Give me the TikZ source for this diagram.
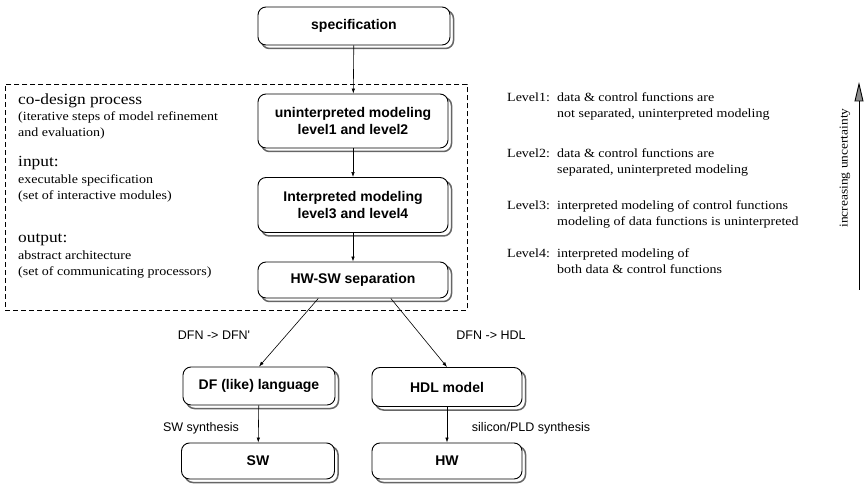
\documentclass[tikz,border=0pt]{standalone}
\usepackage{fontspec}
\setmainfont[FakeStretch=1.12]{Liberation Serif}
\newfontfamily\boxfont{Liberation Sans}
\usetikzlibrary{shadows,arrows.meta}
\begin{document}
\begin{tikzpicture}[x=1pt,y=-1pt,
  box/.style={draw, rounded corners=8pt, fill=white, line width=0.9pt,
    font=\boxfont\bfseries\fontsize{14}{16.5}\selectfont, align=center,
    copy shadow={shadow xshift=3.5pt, shadow yshift=-3.5pt, draw=black!60, fill=white, line width=1.5pt}},
  arr/.style={-{Latex[length=5pt,width=3.5pt]}, line width=0.6pt},
  sanslbl/.style={font=\boxfont\fontsize{12.5}{14}\selectfont, inner sep=0pt},
  bigtxt/.style={font=\fontsize{15.5}{17}\selectfont, anchor=base west, inner sep=0pt},
  smalltxt/.style={font=\fontsize{12.5}{14}\selectfont, anchor=base west, inner sep=0pt},
  lvltxt/.style={font=\fontsize{12.5}{14}\selectfont, anchor=base west, inner sep=0pt}]
\useasboundingbox (0,0) rectangle (868,489);

% dashed group
\node (group) [draw, dashed, dash pattern=on 5pt off 3pt, line width=0.7pt, minimum width=462pt, minimum height=226pt, anchor=north west, inner sep=0pt] at (5,84) {};

% boxes
\node (spec) [box, minimum width=192pt, minimum height=38pt] at (354,26) {specification};
\node (unint) [box, minimum width=190pt, minimum height=54pt] at (353,121) {uninterpreted modeling\\level1 and level2};
\node (int) [box, minimum width=190pt, minimum height=55pt] at (353,205) {Interpreted modeling\\level3 and level4};
\node (hwsw) [box, minimum width=190pt, minimum height=36pt] at (353,280) {HW-SW separation};
\node (df) [box, minimum width=152pt, minimum height=38pt] at (259,386) {DF (like) language};
\node (hdl) [box, minimum width=150pt, minimum height=39pt] at (447,387) {HDL model};
\node (sw) [box, minimum width=153pt, minimum height=36pt] at (258,461) {SW};
\node (hw) [box, minimum width=150pt, minimum height=36pt] at (447,461) {HW};

% connectors
\draw[arr] (spec) -- (unint);
\draw[arr] (unint) -- (int);
\draw[arr] (int) -- (hwsw);
\draw[arr] (hwsw.208) -- (df.north);
\draw[arr] (hwsw.334) -- (hdl.north);
\draw[arr] (df) -- (sw);
\draw[arr] (hdl) -- (hw);

% connector labels
\node (l1) [sanslbl] at (214,335) {DFN -> DFN'};
\node (l2) [sanslbl] at (491,335) {DFN -> HDL};
\node (l3) [sanslbl] at (201,428) {SW synthesis};
\node (l4) [sanslbl] at (531,428) {silicon/PLD synthesis};

% left texts
\node (t1) [bigtxt] at (18,105) {co-design process};
\node (t2) [smalltxt] at (18,121) {(iterative steps of model refinement};
\node (t3) [smalltxt] at (18,137) {and evaluation)};
\node (t4) [bigtxt] at (18,167) {input:};
\node (t5) [smalltxt] at (18,184) {executable specification};
\node (t6) [smalltxt] at (18,200) {(set of interactive modules)};
\node (t7) [bigtxt] at (18,243) {output:};
\node (t8) [smalltxt] at (18,260) {abstract architecture};
\node (t9) [smalltxt] at (18,276) {(set of communicating processors)};

% right texts
\node (v1) [lvltxt] at (507,102) {Level1:};
\node (v1a) [lvltxt] at (557,102) {data \& control functions are};
\node (v1b) [lvltxt] at (557,118) {not separated, uninterpreted modeling};
\node (v2) [lvltxt] at (507,158) {Level2:};
\node (v2a) [lvltxt] at (557,158) {data \& control functions are};
\node (v2b) [lvltxt] at (557,174) {separated, uninterpreted modeling};
\node (v3) [lvltxt] at (507,210) {Level3:};
\node (v3a) [lvltxt] at (557,210) {interpreted modeling of control functions};
\node (v3b) [lvltxt] at (557,226) {modeling of data functions is uninterpreted};
\node (v4) [lvltxt] at (507,258) {Level4:};
\node (v4a) [lvltxt] at (557,258) {interpreted modeling of};
\node (v4b) [lvltxt] at (557,274) {both data \& control functions};

% uncertainty arrow
\coordinate (ubot) at (859,290);
\coordinate (utop) at (859,84);
\coordinate (ubase) at (859,100);
\draw[line width=0.8pt] (ubot) -- (ubase);
\filldraw[fill=black!45, draw=black, line width=0.9pt, line join=miter] (utop) -- (855,101) -- (863,101) -- cycle;
\node (ulbl) [font=\fontsize{12}{13}\selectfont, rotate=90, inner sep=0pt] at (845,168) {increasing uncertainty};
\end{tikzpicture}
\end{document}
